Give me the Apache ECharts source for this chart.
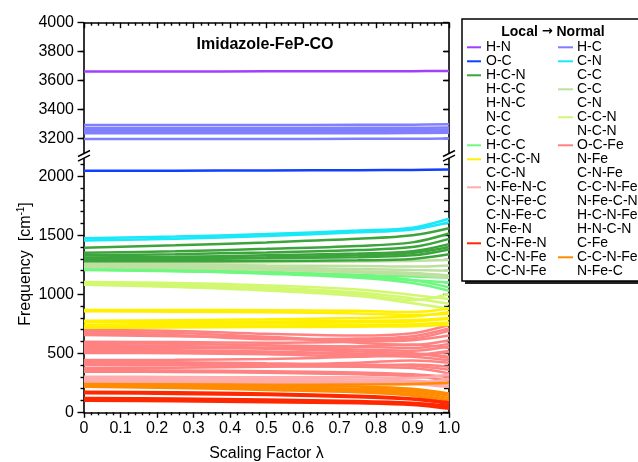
<!DOCTYPE html>
<html><head><meta charset="utf-8">
<script src="https://cdn.jsdelivr.net/npm/echarts@6/dist/echarts.min.js"></script>
<style>html,body{margin:0;padding:0;background:#fff}#c{width:638px;height:462px}</style>
</head><body><div id="c"></div>
<script>
// ---------------- data ----------------
const lambdaValues = [0, 0.25, 0.5, 0.75, 0.9, 1.0];
const xTickValues = [0, 0.1, 0.2, 0.3, 0.4, 0.5, 0.6, 0.7, 0.8, 0.9, 1.0];
const lowerYTicks = [0, 500, 1000, 1500, 2000];
const upperYTicks = [3200, 3400, 3600, 3800, 4000];

const hcLines = [
  [3292, 3292, 3293, 3294, 3295, 3298],
  [3272, 3272, 3272, 3273, 3274, 3276],
  [3256, 3256, 3256, 3257, 3258, 3262],
  [3246, 3246, 3246, 3247, 3248, 3250],
  [3236, 3236, 3236, 3236, 3237, 3240],
  [3196, 3196, 3196, 3197, 3198, 3200]
];
const hnLines = [[3663, 3663, 3664, 3664, 3665, 3666]];
const ocLines = [[2047, 2048, 2050, 2052, 2054, 2058]];
const cnLines = [
  [1475, 1490, 1510, 1540, 1565, 1640],
  [1455, 1470, 1495, 1525, 1550, 1610]
];
const darkGreenLines = [
  [1395, 1415, 1440, 1470, 1500, 1560],
  [1352, 1365, 1385, 1410, 1440, 1515],
  [1330, 1340, 1355, 1375, 1400, 1470],
  [1312, 1318, 1330, 1345, 1365, 1425],
  [1294, 1298, 1305, 1315, 1330, 1380],
  [1280, 1280, 1282, 1288, 1300, 1340],
  [1300, 1305, 1315, 1330, 1350, 1400]
];
const paleGreenLines = [
  [1265, 1268, 1272, 1278, 1282, 1290],
  [1255, 1250, 1245, 1240, 1235, 1245],
  [1248, 1240, 1228, 1215, 1205, 1200],
  [1240, 1230, 1215, 1195, 1180, 1160],
  [1232, 1222, 1208, 1185, 1165, 1140]
];
const lightGreenLines = [
  [1222, 1210, 1190, 1160, 1120, 1060],
  [1216, 1200, 1175, 1140, 1095, 1030],
  [1210, 1198, 1180, 1150, 1120, 1100],
  [1205, 1195, 1182, 1165, 1150, 1140]
];
const yellowGreenLines = [
  [1105, 1095, 1075, 1040, 995, 960],
  [1096, 1082, 1058, 1015, 965, 920],
  [1088, 1072, 1045, 1000, 950, 1000],
  [1080, 1062, 1032, 985, 925, 880]
];
const yellowLines = [
  [868, 868, 865, 860, 850, 880],
  [856, 853, 848, 838, 825, 835],
  [775, 780, 788, 800, 812, 850],
  [765, 767, 770, 775, 782, 800],
  [742, 748, 755, 762, 770, 790],
  [728, 731, 735, 740, 746, 760],
  [716, 718, 722, 726, 730, 742]
];
const salmonLines = [
  [697, 690, 665, 650, 670, 740],
  [685, 672, 640, 610, 625, 690],
  [670, 652, 620, 625, 645, 710],
  [655, 645, 632, 590, 570, 610],
  [598, 595, 590, 598, 610, 650],
  [585, 580, 568, 555, 545, 580],
  [570, 562, 548, 532, 522, 560],
  [556, 550, 538, 515, 500, 470],
  [545, 545, 548, 560, 575, 545],
  [528, 525, 515, 498, 490, 520],
  [515, 512, 506, 490, 470, 440],
  [503, 500, 492, 475, 480, 510],
  [443, 445, 452, 470, 495, 460],
  [430, 425, 415, 405, 395, 360],
  [415, 412, 405, 420, 440, 420],
  [401, 398, 392, 385, 375, 330],
  [375, 378, 385, 395, 405, 385],
  [360, 355, 348, 338, 322, 300],
  [344, 342, 335, 322, 305, 270]
];
const pinkLines = [
  [302, 300, 296, 296, 290, 320],
  [290, 288, 283, 278, 268, 250],
  [275, 272, 268, 262, 255, 235],
  [260, 258, 255, 250, 246, 282],
  [248, 247, 245, 242, 238, 215]
];
const orangeLines = [
  [240, 236, 228, 218, 200, 160],
  [232, 225, 210, 190, 170, 120],
  [228, 218, 202, 182, 152, 100],
  [216, 206, 190, 170, 140, 75],
  [222, 218, 210, 200, 185, 140],
  [238, 236, 234, 236, 240, 250]
];
const redLines = [
  [175, 170, 160, 140, 118, 85],
  [161, 156, 146, 128, 108, 70],
  [121, 116, 108, 96, 80, 55],
  [110, 106, 98, 86, 70, 40],
  [98, 94, 86, 76, 62, 30]
];

const legendLeft = [
  ['H-N', 'purple'], ['O-C', 'blue'], ['H-C-N', 'darkGreen'], ['H-C-C', null], ['H-N-C', null],
  ['N-C', null], ['C-C', null], ['H-C-C', 'lightGreen'], ['H-C-C-N', 'yellow'], ['C-C-N', null],
  ['N-Fe-N-C', 'pink'], ['C-N-Fe-C', null], ['C-N-Fe-C', null], ['N-Fe-N', null],
  ['C-N-Fe-N', 'red'], ['N-C-N-Fe', null], ['C-C-N-Fe', null]
];
const legendRight = [
  ['H-C', 'periwinkle'], ['C-N', 'cyan'], ['C-C', null], ['C-C', 'paleGreen'], ['C-N', null],
  ['C-C-N', 'yellowGreen'], ['N-C-N', null], ['O-C-Fe', 'salmon'], ['N-Fe', null], ['C-N-Fe', null],
  ['C-C-N-Fe', null], ['N-Fe-C-N', null], ['H-C-N-Fe', null], ['H-N-C-N', null], ['C-Fe', null],
  ['C-C-N-Fe', 'orange'], ['N-Fe-C', null]
];

// ---------------- styling ----------------
const colors = {
  purple: '#a040ff', periwinkle: '#8080ff', blue: '#1040ff', cyan: '#18e8f8',
  darkGreen: '#3ca43c', paleGreen: '#bde0a0', lightGreen: '#6ef880', yellowGreen: '#d2f872',
  yellow: '#fff000', salmon: '#ff8282', pink: '#ffacac', orange: '#ff8c00', red: '#ff2800'
};
const FONT = '"Liberation Sans", Arial, Helvetica, sans-serif';
const plotL = 84, plotR = 449;
const upTop = 22.7, upBot = 152.9, loTop = 158.6, loBot = 412.3;

const groups = [
  [hcLines, 'periwinkle', 0], [hnLines, 'purple', 0],
  [ocLines, 'blue', 1], [salmonLines, 'salmon', 1], [pinkLines, 'pink', 1],
  [orangeLines, 'orange', 1], [redLines, 'red', 1],
  [yellowGreenLines, 'yellowGreen', 1], [yellowLines, 'yellow', 1],
  [lightGreenLines, 'lightGreen', 1], [paleGreenLines, 'paleGreen', 1],
  [darkGreenLines, 'darkGreen', 1], [cnLines, 'cyan', 1]
];
const series = [];
groups.forEach(([lines, c, g]) => {
  lines.forEach(vals => {
    series.push({
      type: 'line', xAxisIndex: g === 0 ? 0 : 1, yAxisIndex: g === 0 ? 0 : 2,
      data: lambdaValues.map((x, i) => [x, vals[i]]),
      showSymbol: false, smooth: 0.35, silent: true,
      lineStyle: { color: colors[c], width: 2.5 }
    });
  });
});

const axisLine = { show: true, lineStyle: { color: '#000', width: 1.6 } };
function yAx(gridIndex, min, max, interval, split, ticks, right) {
  return {
    type: 'value', gridIndex, min, max, interval, position: right ? 'right' : 'left',
    axisLine, splitLine: { show: false },
    axisTick: { show: true, inside: !!right, length: right ? 6 : 6.5, customValues: ticks, lineStyle: { color: '#000', width: 1.4 } },
    minorTick: { show: true, splitNumber: split, length: right ? 5 : 3.5, lineStyle: { color: '#000', width: 1.4 } },
    axisLabel: right ? { show: false } : { show: true, customValues: ticks, margin: 10, color: '#000', fontSize: 16, fontFamily: FONT,
      formatter: v => String(v) },
  };
}
function xAx(gridIndex, pos, labels) {
  return {
    type: 'value', gridIndex, min: 0, max: 1, interval: 0.1, position: pos,
    axisLine, splitLine: { show: false },
    axisTick: { show: true, inside: pos === 'top', length: 5.5, lineStyle: { color: '#000', width: 1.4 } },
    minorTick: { show: true, splitNumber: 5, length: 3, lineStyle: { color: '#000', width: 1.4 } },
    axisLabel: labels ? { show: true, margin: 8, color: '#000', fontSize: 16, fontFamily: FONT,
      formatter: v => (v === 0 ? '0' : v.toFixed(1)) } : { show: false },
    name: labels ? 'Scaling Factor λ' : '', nameLocation: 'middle', nameGap: 33,
    nameTextStyle: { color: '#000', fontSize: 16, fontFamily: FONT }
  };
}

const graphics = [];
graphics.push({ type: 'text', x: 265, y: 45, style: { text: 'Imidazole-FeP-CO', fontSize: 16, fontWeight: 'bold', fontFamily: FONT, fill: '#000', align: 'center', verticalAlign: 'middle' } });
graphics.push({ type: 'text', x: 26, y: 264, rotation: Math.PI / 2,
  style: { text: 'Frequency  [cm{s|-1}]', fontSize: 16, fontFamily: FONT, fill: '#000', align: 'center', verticalAlign: 'middle',
    rich: { s: { fontSize: 10, fontFamily: FONT, fill: '#000', padding: [0, 0, 9, 0] } } } });
[plotL, plotR].forEach(x => {
  graphics.push({ type: 'polygon', shape: { points: [[x - 6, 156.5], [x + 6, 150.5], [x + 6, 155.2], [x - 6, 161.2]] }, style: { fill: '#fff' }, z: 50 });
  graphics.push({ type: 'line', shape: { x1: x - 6, y1: 156.5, x2: x + 6, y2: 150.5 }, style: { stroke: '#000', lineWidth: 1.5 }, z: 51 });
  graphics.push({ type: 'line', shape: { x1: x - 6, y1: 161.2, x2: x + 6, y2: 155.2 }, style: { stroke: '#000', lineWidth: 1.5 }, z: 51 });
});
graphics.push({ type: 'rect', shape: { x: 465, y: 22, width: 200, height: 262 }, style: { fill: '#222' }, z: 10 });
graphics.push({ type: 'rect', shape: { x: 462, y: 19, width: 200, height: 262 }, style: { fill: '#fff', stroke: '#000', lineWidth: 1.5 }, z: 11 });
graphics.push({ type: 'text', x: 553, y: 32, style: { text: 'Local {a|→} Normal', fontSize: 14, fontWeight: 'bold', fontFamily: FONT, fill: '#000', align: 'center', verticalAlign: 'middle',
  rich: { a: { fontSize: 13, fontWeight: 'bold', fontFamily: '"DejaVu Sans", sans-serif', fill: '#000' } } }, z: 12 });
function legendCol(items, lx1, lx2, tx) {
  items.forEach(([label, c], i) => {
    const y = 47.3 + i * 14;
    if (c) graphics.push({ type: 'line', shape: { x1: lx1, y1: y, x2: lx2, y2: y }, style: { stroke: colors[c], lineWidth: 2 }, z: 12 });
    graphics.push({ type: 'text', x: tx, y: y, style: { text: label, fontSize: 14, fontFamily: FONT, fill: '#000', align: 'left', verticalAlign: 'middle' }, z: 12 });
  });
}
legendCol(legendLeft, 467, 481, 486);
legendCol(legendRight, 558, 573, 577);

const chart = echarts.init(document.getElementById('c'), null, { renderer: 'canvas' });
chart.setOption({
  animation: false,
  backgroundColor: '#fff',
  grid: [
    { left: plotL, right: 638 - plotR, top: upTop, height: upBot - upTop, containLabel: false, outerBoundsMode: 'none' },
    { left: plotL, right: 638 - plotR, top: loTop, height: loBot - loTop, containLabel: false, outerBoundsMode: 'none' }
  ],
  xAxis: [xAx(0, 'top', false), xAx(1, 'bottom', true)],
  yAxis: [
    yAx(0, 3100, 4000, 200, 2, upperYTicks, false),
    yAx(0, 3100, 4000, 200, 2, upperYTicks, true),
    yAx(1, 0, 2150, 500, 5, lowerYTicks, false),
    yAx(1, 0, 2150, 500, 5, lowerYTicks, true)
  ],
  series,
  graphic: graphics
});
</script></body></html>
